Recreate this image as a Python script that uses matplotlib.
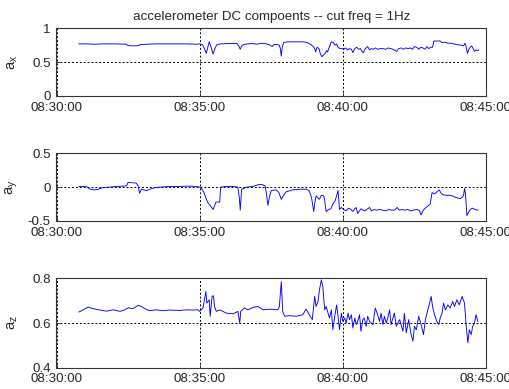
import datetime as dt
import matplotlib
matplotlib.use("Agg")
import matplotlib.pyplot as plt
import matplotlib.dates as mdates

plt.rcParams['font.family'] = ['Liberation Sans', 'DejaVu Sans']
plt.rcParams['mathtext.fontset'] = 'custom'
plt.rcParams['mathtext.rm'] = 'Liberation Sans'

title = "accelerometer DC compoents -- cut freq = 1Hz"
start = dt.datetime(2010, 1, 1, 8, 30, 0)

# seconds after 08:30:00 and filtered acceleration (g)
ax_t = [47, 60, 80, 100, 120, 145, 150, 160, 172, 176, 190, 210, 240, 270, 295, 300,
        306, 310, 314, 317, 320, 324, 328, 332, 336, 345, 360, 378, 382, 385, 388, 392,
        400, 410, 420, 430, 440, 448, 452, 456, 462, 467, 469, 471, 473, 476, 485, 500,
        515, 522, 528, 533, 538, 541, 543, 546, 550, 553, 556, 560, 563, 566, 568, 572,
        576, 580, 584, 587, 590, 594, 598, 602, 606, 610, 614, 618, 621, 625, 629, 633,
        637, 640, 643, 647, 652, 656, 660, 664, 668, 673, 678, 684, 690, 695, 700, 705,
        710, 713, 717, 722, 727, 732, 737, 741, 746, 750, 755, 759, 763, 768, 772, 776,
        780, 784, 788, 791, 796, 803, 808, 814, 820, 826, 832, 838, 844, 849, 853, 856,
        858, 861, 864, 867, 870, 873, 876, 879, 883, 885]
ax_v = [0.77, 0.77, 0.765, 0.77, 0.77, 0.765, 0.745, 0.74, 0.745, 0.76, 0.765, 0.77, 0.77, 0.77, 0.765, 0.77,
        0.76, 0.70, 0.63, 0.72, 0.80, 0.72, 0.62, 0.70, 0.76, 0.77, 0.775, 0.775, 0.74, 0.69, 0.74, 0.76,
        0.77, 0.775, 0.765, 0.78, 0.77, 0.75, 0.73, 0.76, 0.76, 0.75, 0.70, 0.59, 0.72, 0.79, 0.80, 0.80,
        0.80, 0.795, 0.78, 0.76, 0.73, 0.70, 0.65, 0.72, 0.70, 0.62, 0.58, 0.61, 0.63, 0.67, 0.65, 0.73,
        0.80, 0.79, 0.75, 0.77, 0.72, 0.70, 0.70, 0.69, 0.71, 0.68, 0.70, 0.69, 0.64, 0.70, 0.72, 0.69,
        0.70, 0.66, 0.64, 0.70, 0.73, 0.68, 0.70, 0.69, 0.71, 0.69, 0.70, 0.70, 0.69, 0.71, 0.70, 0.69,
        0.67, 0.66, 0.70, 0.71, 0.69, 0.71, 0.70, 0.71, 0.69, 0.73, 0.72, 0.69, 0.72, 0.71, 0.69, 0.73,
        0.70, 0.72, 0.72, 0.815, 0.81, 0.815, 0.79, 0.795, 0.78, 0.78, 0.77, 0.76, 0.755, 0.75, 0.74, 0.78,
        0.74, 0.63, 0.69, 0.72, 0.74, 0.70, 0.66, 0.68, 0.67, 0.68]

ay_t = [47, 55, 64, 70, 78, 86, 95, 110, 125, 140, 147, 150, 158, 167, 171, 174,
        178, 183, 188, 196, 205, 216, 235, 255, 275, 293, 300, 305, 309, 314, 318, 322,
        325, 328, 331, 334, 342, 344, 355, 370, 380, 383, 385, 388, 398, 412, 420, 426,
        432, 437, 440, 443, 447, 450, 460, 466, 471, 476, 481, 495, 510, 523, 529, 533,
        535, 539, 542, 544, 548, 551, 555, 560, 562, 565, 570, 575, 579, 584, 590, 593,
        597, 600, 604, 607, 612, 617, 621, 625, 628, 631, 635, 638, 642, 646, 650, 656,
        660, 665, 670, 677, 684, 690, 696, 702, 708, 714, 718, 724, 730, 736, 742, 748,
        754, 760, 764, 767, 771, 778, 783, 787, 792, 797, 802, 806, 809, 816, 823, 830,
        836, 841, 846, 850, 853, 855, 857, 860, 865, 869, 872, 877, 883]
ay_v = [0.01, 0.01, 0.005, -0.03, -0.04, -0.035, -0.01, 0.0, 0.01, 0.015, 0.02, 0.07, 0.065, 0.06, 0.02, -0.09,
        -0.03, -0.04, -0.05, -0.03, -0.01, 0.0, 0.01, 0.01, 0.015, 0.01, 0.0, -0.03, -0.08, -0.18, -0.24, -0.27,
        -0.30, -0.33, -0.28, -0.22, -0.22, 0.0, 0.01, 0.01, 0.0, -0.15, -0.34, -0.03, 0.0, 0.01, 0.03, 0.04,
        0.035, 0.02, -0.10, -0.27, -0.12, -0.05, -0.04, -0.08, -0.18, -0.12, -0.07, -0.04, -0.03, -0.03, -0.05, -0.12,
        -0.18, -0.36, -0.20, -0.13, -0.16, -0.18, -0.12, -0.13, -0.20, -0.36, -0.33, -0.32, -0.25, -0.20, -0.05, -0.33,
        -0.30, -0.32, -0.34, -0.35, -0.31, -0.33, -0.36, -0.32, -0.30, -0.39, -0.35, -0.32, -0.34, -0.35, -0.33, -0.30,
        -0.35, -0.33, -0.34, -0.33, -0.34, -0.35, -0.33, -0.34, -0.34, -0.30, -0.34, -0.33, -0.34, -0.33, -0.35, -0.34,
        -0.33, -0.34, -0.41, -0.36, -0.32, -0.28, -0.25, -0.08, -0.10, -0.07, -0.04, -0.09, -0.11, -0.12, -0.12, -0.13,
        -0.15, -0.16, -0.17, -0.15, -0.12, -0.02, -0.10, -0.42, -0.35, -0.32, -0.31, -0.33, -0.34]

az_t = [47, 56, 66, 77, 91, 105, 119, 133, 143, 150, 160, 171, 178, 185, 195, 209,
        223, 237, 258, 272, 286, 296, 300, 307, 313, 315, 320, 322, 326, 329, 331, 335,
        342, 356, 370, 380, 384, 386, 394, 401, 412, 422, 433, 447, 464, 467, 471, 474,
        478, 488, 502, 516, 523, 530, 536, 541, 544, 548, 551, 555, 558, 562, 565, 569,
        572, 576, 579, 583, 587, 590, 593, 597, 600, 604, 607, 611, 614, 618, 621, 625,
        628, 631, 635, 638, 642, 645, 649, 652, 656, 663, 668, 673, 677, 680, 684, 687,
        691, 694, 698, 701, 705, 708, 712, 719, 726, 729, 733, 738, 743, 747, 750, 754,
        759, 764, 769, 773, 778, 781, 785, 788, 792, 797, 801, 804, 808, 811, 815, 820,
        825, 830, 834, 839, 844, 850, 855, 858, 862, 865, 869, 872, 876, 879, 883]
az_v = [0.649, 0.659, 0.671, 0.664, 0.658, 0.653, 0.659, 0.652, 0.659, 0.668, 0.664, 0.679, 0.674, 0.664, 0.655, 0.659,
        0.655, 0.658, 0.656, 0.659, 0.658, 0.659, 0.652, 0.667, 0.741, 0.689, 0.704, 0.630, 0.719, 0.722, 0.674, 0.652,
        0.659, 0.644, 0.641, 0.652, 0.600, 0.652, 0.667, 0.659, 0.670, 0.674, 0.659, 0.662, 0.659, 0.674, 0.785, 0.652,
        0.630, 0.633, 0.630, 0.637, 0.662, 0.637, 0.615, 0.719, 0.674, 0.696, 0.748, 0.793, 0.763, 0.659, 0.674, 0.644,
        0.622, 0.659, 0.570, 0.630, 0.681, 0.630, 0.570, 0.644, 0.607, 0.622, 0.600, 0.644, 0.615, 0.637, 0.578, 0.622,
        0.593, 0.607, 0.637, 0.563, 0.615, 0.622, 0.585, 0.630, 0.607, 0.593, 0.667, 0.637, 0.607, 0.644, 0.593, 0.630,
        0.600, 0.622, 0.659, 0.593, 0.622, 0.644, 0.585, 0.615, 0.563, 0.644, 0.556, 0.615, 0.548, 0.519, 0.585, 0.570,
        0.630, 0.593, 0.548, 0.615, 0.659, 0.681, 0.719, 0.674, 0.637, 0.607, 0.593, 0.622, 0.644, 0.689, 0.659, 0.681,
        0.667, 0.696, 0.674, 0.704, 0.681, 0.719, 0.689, 0.600, 0.511, 0.570, 0.548, 0.585, 0.600, 0.637, 0.607]

series = [
    (ax_t, ax_v, r"$\mathregular{a_x}$", [0, 0.5, 1], ["0", "0.5", "1"]),
    (ay_t, ay_v, r"$\mathregular{a_y}$", [-0.5, 0, 0.5], ["-0.5", "0", "0.5"]),
    (az_t, az_v, r"$\mathregular{a_z}$", [0.4, 0.6, 0.8], ["0.4", "0.6", "0.8"]),
]

W, H = 510, 389
fig = plt.figure(figsize=(W / 100, H / 100), dpi=100)
fig.patch.set_facecolor("white")

# panel boxes in pixels: (left, top, right, bottom)
boxes = [(56.5, 28.3, 486, 96), (56.5, 153.3, 486, 221), (56.5, 278.3, 486, 367.7)]

tick_times = [start + dt.timedelta(minutes=m) for m in (0, 5, 10, 15)]
txt = "#262626"
fs = 9.6

for (t, v, lab, yt, ytl), (l, tp, r, b) in zip(series, boxes):
    a = fig.add_axes([l / W, 1 - b / H, (r - l) / W, (b - tp) / H])
    times = [start + dt.timedelta(seconds=s) for s in t]
    a.plot(times, v, color="#0000ff", lw=0.65)
    a.set_xlim(tick_times[0], tick_times[-1])
    a.set_ylim(yt[0], yt[-1])
    a.set_xticks(tick_times)
    a.xaxis.set_major_formatter(mdates.DateFormatter("%H:%M:%S"))
    a.set_yticks(yt)
    a.set_yticklabels(ytl)
    a.grid(True, color="black", lw=0.7, linestyle=(0, (2.0, 2.0)))
    a.tick_params(direction="in", length=3, width=0.6, labelsize=fs,
                  labelcolor=txt, color="#333333", pad=4)
    for sp in a.spines.values():
        sp.set_color("#333333")
        sp.set_linewidth(0.8)
    a.set_ylabel(lab, fontsize=fs + 1.0, color=txt)
    a.yaxis.set_label_coords(-0.085, 0.5)
    if lab.endswith("x}$"):
        a.set_title(title, fontsize=fs, color=txt, pad=6)

fig.savefig("out.png", dpi=100)
